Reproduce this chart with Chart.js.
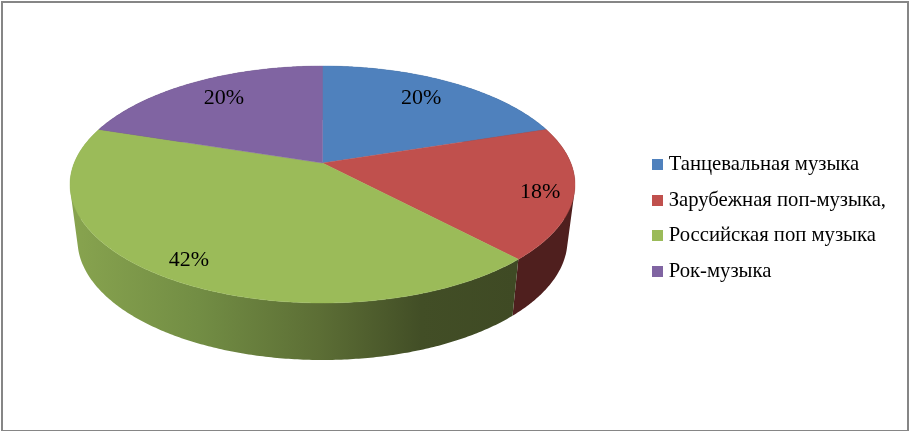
<!DOCTYPE html>
<html><head><meta charset="utf-8">
<script src="https://cdn.jsdelivr.net/npm/chart.js@4"></script>
<style>
html,body{margin:0;padding:0;background:#fff;overflow:hidden}
#wrap{position:relative;width:909px;height:431px}
#frame{position:absolute;left:1px;top:1px;right:0;bottom:0;border:solid #868686;border-width:2px 2px 1px 2px;pointer-events:none}
canvas{position:absolute;left:0;top:0}
</style></head><body>
<div id="wrap"><canvas id="c" width="909" height="431"></canvas><div id="frame"></div></div>
<script>
const categories = ["Танцевальная музыка","Зарубежная поп-музыка,","Российская поп музыка","Рок-музыка"];
const shares = [20,18,42,20];
const sliceColors = ["#4F81BD","#C0504D","#9BBB59","#8064A2"];
const wallColors = ["#2F4D71","#4F1F1E",null,"#4D3C61"];
const labelFractions = [0.75,0.87,0.87,0.75];
const labelNudgeY = [-2,3,0,-2];

// Projection of the tilted disc on the page
const topEllipse = {cx:322.5, cy:184.5, rx:252.5, ry:118.5};
const baseEllipse = {cx:322.5, cy:240, rx:245, ry:120};
const tilt = -0.181;
function project(e, theta, f){
  const u = f*Math.sin(theta), v = -f*Math.cos(theta), d = 1 + tilt*v;
  return {x:e.cx + e.rx*u*Math.sqrt(1-tilt*tilt)/d, y:e.cy + e.ry*(v+tilt)/d};
}
function arcPts(e,a,b){
  const n = Math.max(4,Math.ceil(Math.abs(b-a)/0.01)), p=[];
  for(let i=0;i<=n;i++) p.push(project(e,a+(b-a)*i/n,1));
  return p;
}
function signedArea(q){
  let s=0;
  q.forEach((p,i)=>{const r=q[(i+1)%q.length]; s+=p.x*r.y-r.x*p.y;});
  return s;
}
const pie3d = {
  id:'pie3d',
  beforeDatasetsDraw(chart){
    const ctx = chart.ctx, arcs = chart.getDatasetMeta(0).data;
    const ang = arcs.map(a=>[a.startAngle+Math.PI/2,a.endAngle+Math.PI/2]);
    const wallGrad = ctx.createLinearGradient(70,0,515,0);
    [[0,"#88A44F"],[0.29,"#728D44"],[0.56,"#5C6E35"],[0.79,"#424E26"],[1,"#3F4A24"]].forEach(s=>wallGrad.addColorStop(s[0],s[1]));
    // side walls: strips of one winding in one path, so the silhouette joins the two rims without seams
    arcs.forEach((a,i)=>{
      const t = arcPts(topEllipse,ang[i][0],ang[i][1]), b = arcPts(baseEllipse,ang[i][0],ang[i][1]);
      ctx.beginPath();
      for(let k=0;k<t.length-1;k++){
        let q=[t[k],t[k+1],b[k+1],b[k]];
        if(signedArea(q)<0) q=q.reverse();
        q.forEach((p,j)=>j?ctx.lineTo(p.x,p.y):ctx.moveTo(p.x,p.y));
        ctx.closePath();
      }
      ctx.fillStyle = wallColors[i] || wallGrad;
      ctx.fill();
    });
    // top faces
    const apex = {x:topEllipse.cx, y:topEllipse.cy + topEllipse.ry*tilt};
    arcs.forEach((a,i)=>{
      ctx.beginPath(); ctx.moveTo(apex.x,apex.y);
      arcPts(topEllipse,ang[i][0],ang[i][1]).forEach(p=>ctx.lineTo(p.x,p.y));
      ctx.closePath();
      ctx.fillStyle = sliceColors[i]; ctx.fill();
      ctx.strokeStyle = sliceColors[i]; ctx.lineWidth=0.4; ctx.stroke();
    });
    // value labels
    ctx.fillStyle="#000"; ctx.font="22px 'Liberation Serif'"; ctx.textAlign="center"; ctx.textBaseline="middle";
    arcs.forEach((a,i)=>{
      const p = project(topEllipse,(ang[i][0]+ang[i][1])/2,labelFractions[i]);
      ctx.fillText(shares[i]+"%",p.x,p.y+labelNudgeY[i]);
    });
    return false;
  }
};
function swatch(color){
  const c=document.createElement('canvas'); c.width=11; c.height=11;
  const g=c.getContext('2d'); g.fillStyle=color; g.fillRect(0,0,11,11); return c;
}
new Chart(document.getElementById('c'),{
  type:'pie',
  data:{labels:categories,datasets:[{data:shares,backgroundColor:sliceColors,borderWidth:0}]},
  plugins:[pie3d],
  options:{
    responsive:false,animation:false,
    layout:{padding:{right:13,top:5}},
    plugins:{
      tooltip:{enabled:false},
      legend:{position:'right',
        labels:{usePointStyle:true,boxWidth:1,boxHeight:1,padding:14.9,color:"#000",
          font:{family:"'Liberation Serif'",size:20.7},
          generateLabels(chart){
            return Chart.overrides.pie.plugins.legend.labels.generateLabels(chart).map((l,i)=>Object.assign(l,{pointStyle:swatch(sliceColors[i])}));
          }}}
    }
  }
});
</script></body></html>
